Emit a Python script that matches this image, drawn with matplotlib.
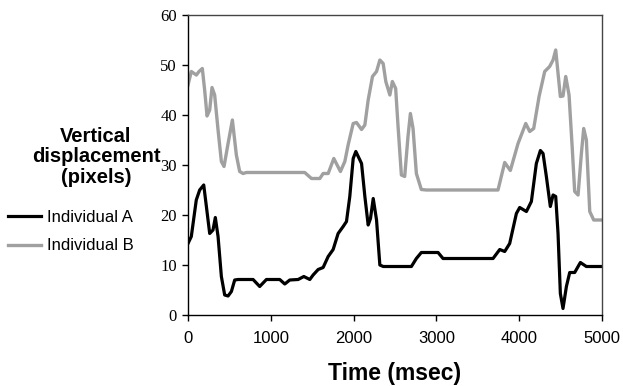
import matplotlib
matplotlib.use("Agg")
import matplotlib.pyplot as plt
from matplotlib.lines import Line2D

# Individual A (black)
time_a = [0, 40, 100, 141, 190, 222, 262, 302, 330, 363, 403, 443, 484, 524, 564, 605, 786,
          866, 947, 1108, 1169, 1229, 1330, 1399, 1471, 1511, 1572, 1632, 1693, 1753, 1813,
          1874, 1914, 1954, 1995, 2027, 2096, 2136, 2176, 2204, 2237, 2277, 2317, 2358,
          2698, 2758, 2818, 3020, 3080, 3684, 3765, 3825, 3885, 3966, 4006, 4087, 4147,
          4207, 4256, 4288, 4328, 4376, 4409, 4441, 4469, 4497, 4529, 4570, 4610, 4670,
          4739, 4811, 5000]
disp_a = [14.3, 15.7, 23.0, 25.0, 26.0, 21.7, 16.3, 17.0, 19.5, 15.7, 7.7, 4.0, 3.8, 4.7, 7.0, 7.1, 7.1,
          5.7, 7.1, 7.1, 6.2, 7.0, 7.1, 7.7, 7.1, 8.0, 9.1, 9.5, 11.7, 13.1, 16.3,
          17.7, 18.7, 23.7, 31.3, 32.7, 30.3, 23.7, 18.0, 19.3, 23.3, 19.0, 10.0, 9.7,
          9.7, 11.3, 12.5, 12.5, 11.3, 11.3, 13.1, 12.7, 14.3, 20.3, 21.5, 20.7, 22.7,
          30.3, 32.9, 32.3, 27.7, 21.7, 24.0, 23.7, 16.3, 4.3, 1.3, 5.7, 8.5, 8.5,
          10.5, 9.7, 9.7]

# Individual B (gray)
time_b = [0, 40, 101, 133, 173, 201, 230, 262, 290, 322, 363, 403, 435, 484, 536, 584, 624, 665,
          705, 1410, 1491, 1592, 1632, 1693, 1761, 1841, 1894, 1934, 1995, 2035, 2096, 2136,
          2176, 2228, 2277, 2317, 2357, 2389, 2438, 2468, 2508, 2537, 2577, 2617, 2657, 2686,
          2718, 2758, 2818, 2879, 3744, 3825, 3893, 3986, 4079, 4127, 4175, 4240, 4308, 4368,
          4409, 4441, 4497, 4529, 4562, 4602, 4642, 4670, 4711, 4751, 4779, 4811, 4852, 4900,
          5000]
disp_b = [46.0, 48.7, 48.0, 48.7, 49.3, 45.0, 39.8, 41.0, 45.5, 44.0, 37.0, 30.7, 29.7, 34.3, 39.0, 32.0, 28.7, 28.3,
          28.5, 28.5, 27.3, 27.3, 28.3, 28.3, 31.3, 28.7, 30.7, 34.0, 38.3, 38.5, 37.1, 38.0,
          43.0, 47.7, 48.7, 51.0, 50.3, 46.7, 44.0, 46.7, 45.3, 37.7, 28.0, 27.7, 35.7, 40.3,
          37.3, 28.3, 25.1, 25.0, 25.0, 30.5, 28.9, 34.3, 38.3, 36.7, 37.3, 43.7, 48.7, 49.7,
          51.0, 53.0, 43.7, 43.8, 47.7, 44.0, 33.0, 24.7, 24.0, 32.3, 37.3, 35.0, 20.7, 19.0,
          19.0]

x_ticks = [0, 1000, 2000, 3000, 4000, 5000]
y_ticks = [0, 10, 20, 30, 40, 50, 60]
series_names = ["Individual A", "Individual B"]

SANS = "Liberation Sans"
SERIF = "Liberation Serif"
GRAY = "#a0a0a0"

fig = plt.figure(figsize=(6.23, 3.86), dpi=100)
ax = fig.add_axes([188/623, 71/386, 414/623, 300/386])

ax.plot(time_b, disp_b, color=GRAY, lw=2.4, solid_joinstyle="round")
ax.plot(time_a, disp_a, color="black", lw=2.3, solid_joinstyle="round")

ax.set_xlim(0, 5000)
ax.set_ylim(0, 60)
ax.set_xticks(x_ticks)
ax.set_yticks(y_ticks)
ax.set_xticklabels([str(v) for v in x_ticks], fontfamily=SANS, fontsize=12)
ax.set_yticklabels([str(v) for v in y_ticks], fontfamily=SERIF, fontsize=12)
ax.tick_params(direction="out", length=4, width=1, color="black", pad=4)
ax.tick_params(axis="x", pad=7.3)

for s in ["left", "bottom"]:
    ax.spines[s].set_color("black")
    ax.spines[s].set_linewidth(1.0)
for s in ["top", "right"]:
    ax.spines[s].set_color("#444444")
    ax.spines[s].set_linewidth(1.0)

ax.set_xlabel("Time (msec)", fontfamily=SANS, fontsize=16.5, fontweight="bold", labelpad=11.7)

fig.text(96/623, 1 - 157/386, "Vertical\ndisplacement\n(pixels)", ha="center", va="center",
         fontfamily=SANS, fontsize=14.5, fontweight="bold", linespacing=1.08)

# legend
handles = [Line2D([], [], color="black", lw=2.3), Line2D([], [], color=GRAY, lw=2.4)]
leg = fig.legend(handles, series_names, loc="upper left", bbox_to_anchor=(8/623, 1 - 210/386),
                 frameon=False, prop={"family": SANS, "size": 12}, handlelength=1.95,
                 handletextpad=0.4, labelspacing=0.8, borderaxespad=0.0, borderpad=0.0)

fig.savefig("out.png", dpi=100)
